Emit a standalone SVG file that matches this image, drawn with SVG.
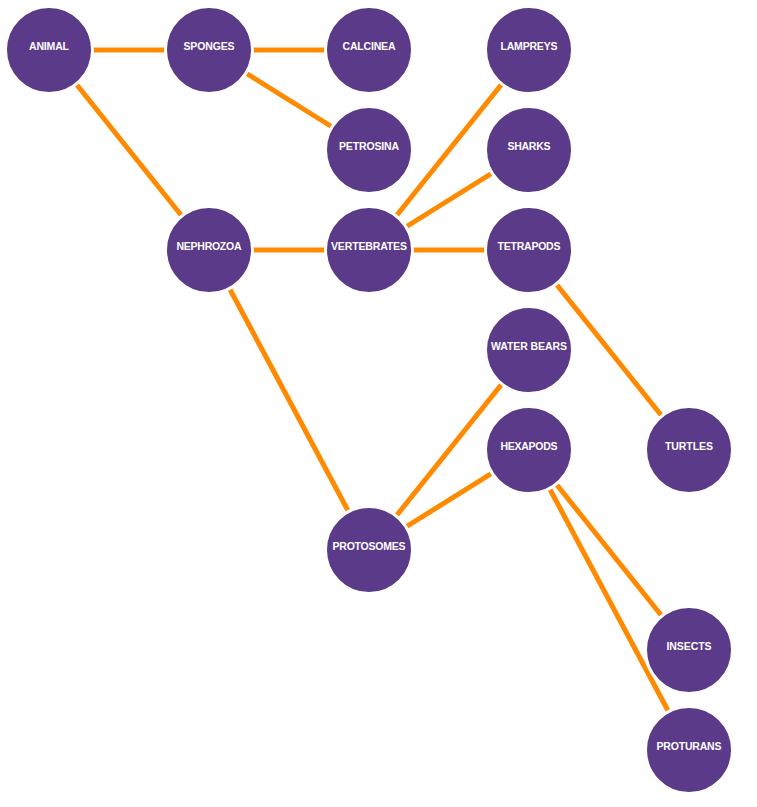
<svg xmlns="http://www.w3.org/2000/svg" width="757" height="807" viewBox="0 0 757 807">
<style>
.edge{stroke:#ff8a00;stroke-width:5;fill:none}
.node circle{fill:#5a3a89;stroke:#fff;stroke-width:3}
.node text{fill:#fff;font-family:"Liberation Sans",Arial,sans-serif;font-weight:bold;font-size:10.5px;text-anchor:middle}
</style>
<rect width="757" height="807" fill="#fff"/>
<g id="connectors">
<line class="edge" x1="49" y1="50" x2="209" y2="50"/>
<line class="edge" x1="209" y1="50" x2="369" y2="50"/>
<line class="edge" x1="209" y1="50" x2="369" y2="150"/>
<line class="edge" x1="49" y1="50" x2="209" y2="250"/>
<line class="edge" x1="209" y1="250" x2="369" y2="250"/>
<line class="edge" x1="209" y1="250" x2="369" y2="550"/>
<line class="edge" x1="369" y1="250" x2="529" y2="50"/>
<line class="edge" x1="369" y1="250" x2="529" y2="150"/>
<line class="edge" x1="369" y1="250" x2="529" y2="250"/>
<line class="edge" x1="529" y1="250" x2="689" y2="450"/>
<line class="edge" x1="369" y1="550" x2="529" y2="350"/>
<line class="edge" x1="369" y1="550" x2="529" y2="450"/>
<line class="edge" x1="529" y1="450" x2="689" y2="650"/>
<line class="edge" x1="529" y1="450" x2="689" y2="750"/>
</g>
<g id="animal" class="node"><circle cx="49" cy="50" r="43.5"/><text x="49" y="50" textLength="40" lengthAdjust="spacing">ANIMAL</text></g>
<g id="sponges" class="node"><circle cx="209" cy="50" r="43.5"/><text x="209" y="50" textLength="51" lengthAdjust="spacing">SPONGES</text></g>
<g id="calcinea" class="node"><circle cx="369" cy="50" r="43.5"/><text x="369" y="50" textLength="53" lengthAdjust="spacing">CALCINEA</text></g>
<g id="lampreys" class="node"><circle cx="529" cy="50" r="43.5"/><text x="529" y="50" textLength="57" lengthAdjust="spacing">LAMPREYS</text></g>
<g id="petrosina" class="node"><circle cx="369" cy="150" r="43.5"/><text x="369" y="150" textLength="60" lengthAdjust="spacing">PETROSINA</text></g>
<g id="sharks" class="node"><circle cx="529" cy="150" r="43.5"/><text x="529" y="150" textLength="43" lengthAdjust="spacing">SHARKS</text></g>
<g id="nephrozoa" class="node"><circle cx="209" cy="250" r="43.5"/><text x="209" y="250" textLength="65" lengthAdjust="spacing">NEPHROZOA</text></g>
<g id="vertebrates" class="node"><circle cx="369" cy="250" r="43.5"/><text x="369" y="250" textLength="76" lengthAdjust="spacing">VERTEBRATES</text></g>
<g id="tetrapods" class="node"><circle cx="529" cy="250" r="43.5"/><text x="529" y="250" textLength="63" lengthAdjust="spacing">TETRAPODS</text></g>
<g id="water-bears" class="node"><circle cx="529" cy="350" r="43.5"/><text x="529" y="350" textLength="76" lengthAdjust="spacing">WATER BEARS</text></g>
<g id="hexapods" class="node"><circle cx="529" cy="450" r="43.5"/><text x="529" y="450" textLength="57" lengthAdjust="spacing">HEXAPODS</text></g>
<g id="turtles" class="node"><circle cx="689" cy="450" r="43.5"/><text x="689" y="450" textLength="48" lengthAdjust="spacing">TURTLES</text></g>
<g id="protosomes" class="node"><circle cx="369" cy="550" r="43.5"/><text x="369" y="550" textLength="73" lengthAdjust="spacing">PROTOSOMES</text></g>
<g id="insects" class="node"><circle cx="689" cy="650" r="43.5"/><text x="689" y="650" textLength="45" lengthAdjust="spacing">INSECTS</text></g>
<g id="proturans" class="node"><circle cx="689" cy="750" r="43.5"/><text x="689" y="750" textLength="65" lengthAdjust="spacing">PROTURANS</text></g>
</svg>
